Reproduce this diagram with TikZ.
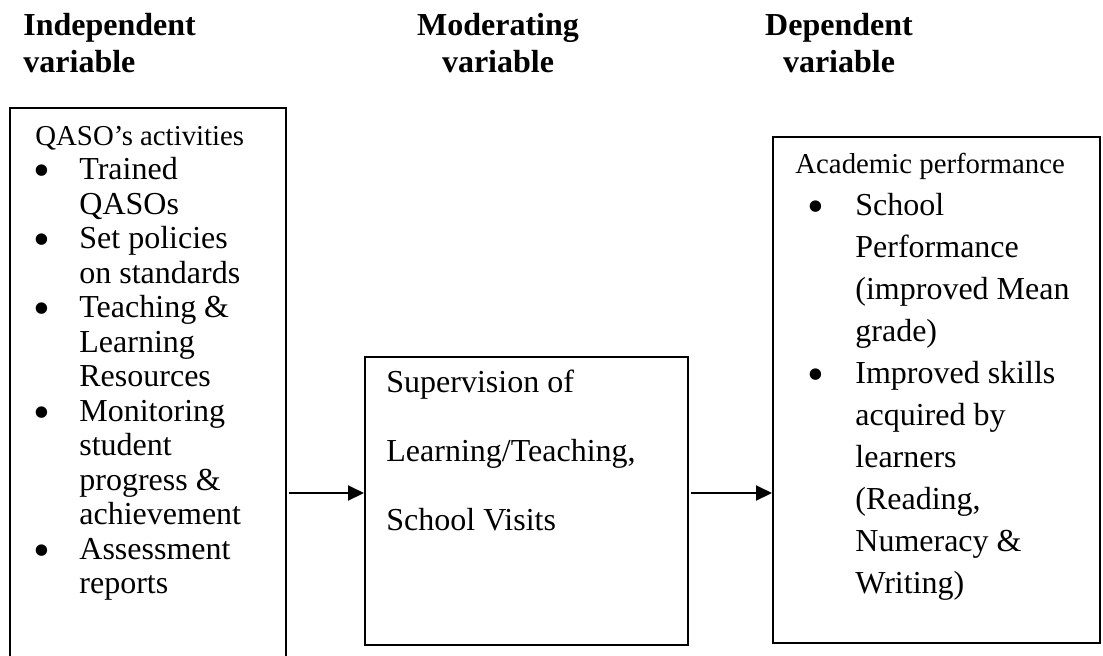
\documentclass[tikz,border=0pt]{standalone}
\usepackage{fontspec}
\setmainfont{Liberation Serif}
\usetikzlibrary{arrows.meta,fit}
\newcommand{\blt}{\raisebox{-3.5pt}{\scalebox{1.5}{\textbullet}}}

\begin{document}
\begin{tikzpicture}
  [x=0.5pt,y=-0.5pt,
   box/.style={draw,line width=1pt,inner sep=0pt},
   head/.style={font=\bfseries\fontsize{16}{18.5}\selectfont,inner sep=0pt},
   txt/.style={inner sep=0pt,anchor=base west},
   arr/.style={-{Triangle[length=8pt,width=7.5pt]},line width=1pt}]
  \useasboundingbox (0,0) rectangle (1103,655);

  % headings (placed by their last line)
  \node[head,align=left,anchor=base west] (hiv) at (23,72) {Independent\\variable};
  \node[head,align=center,anchor=base] (hmv) at (498,72) {Moderating\\variable};
  \node[head,align=center,anchor=base] (hdv) at (839,72) {Dependent\\variable};

  % boxes
  \node[box,fit={(10,108) (286,690)}] (iv) {};
  \node[box,fit={(365,357) (688,645)}] (mv) {};
  \node[box,fit={(773,137) (1100,643)}] (dv) {};

  % box texts
  \node[txt,font=\fontsize{16}{17.25}\selectfont] (ivt) at (33,145) {%
    \begin{tabular}[t]{@{}p{23pt}@{}l@{}}
      \multicolumn{2}{@{\hspace{1pt}}l@{}}{\fontsize{14.4}{17.25}\selectfont QASO's activities}\\
      \blt & Trained\\
           & QASOs\\
      \blt & Set policies\\
           & on standards\\
      \blt & Teaching \&\\
           & Learning\\
           & Resources\\
      \blt & Monitoring\\
           & student\\
           & progress \&\\
           & achievement\\
      \blt & Assessment\\
           & reports
    \end{tabular}};
  \node[txt,align=left,font=\fontsize{16}{34.5}\selectfont] (mvt) at (386,530)
    {Supervision of\\Learning/Teaching,\\School Visits};
  \node[txt,font=\fontsize{16}{21}\selectfont] (dvt) at (795,173) {%
    \begin{tabular}[t]{@{\hspace{6pt}}p{24pt}@{}l@{}}
      \multicolumn{2}{@{}l@{}}{\fontsize{14.4}{21}\selectfont Academic performance}\\
      \blt & School\\
           & Performance\\
           & (improved Mean\\
           & grade)\\
      \blt & Improved skills\\
           & acquired by\\
           & learners\\
           & (Reading,\\
           & Numeracy \&\\
           & Writing)
    \end{tabular}};

  % arrows
  \draw[arr] ([yshift=4pt]mv.west -| iv.east) ++(2,0) -- ([yshift=4pt]mv.west);
  \draw[arr] ([yshift=4pt]mv.east) ++(2,0) -- ([yshift=4pt]mv.east -| dv.west);
\end{tikzpicture}
\end{document}
